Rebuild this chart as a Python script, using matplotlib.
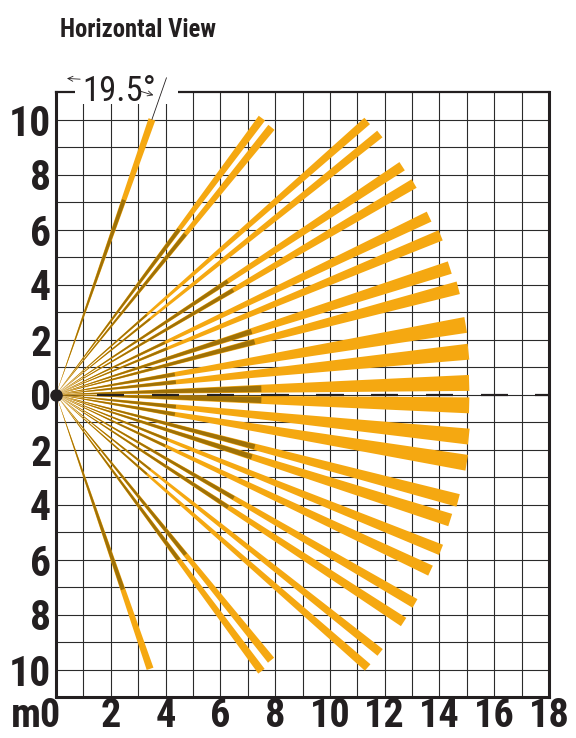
import matplotlib
matplotlib.use('Agg')
import matplotlib.pyplot as plt
import numpy as np
from matplotlib.patches import Polygon, Rectangle

FONT = ['Roboto Condensed', 'Open Sans Condensed', 'Liberation Sans Narrow', 'Liberation Sans', 'DejaVu Sans']
plt.rcParams['font.family'] = FONT

# ---- data ----
beam_angles = [70.7, 53.2, 51.0, 41.2, 38.7, 33.3, 30.4, 25.4, 22.4, 17.8, 14.8, 9.6, 5.9, 1.6,
               -1.5, -5.8, -9.4, -14.7, -17.6, -21.9, -25.1, -30.1, -33.1, -38.4, -41.1, -50.9, -53.3, -71.0]
beam_lengths = [10.6, 12.55, 12.5, 15.1, 15.15, 15.12, 15.16, 15.08, 15.19, 15.1, 15.19, 15.17, 15.14, 15.09,
                15.09, 15.15, 15.2, 15.18, 15.1, 15.15, 15.1, 15.15, 15.15, 15.1, 15.1, 12.45, 12.55, 10.55]
beam_end_widths = [0.26, 0.29, 0.29, 0.31, 0.31, 0.36, 0.36, 0.40, 0.40, 0.47, 0.47, 0.58, 0.58, 0.58,
                   0.58, 0.58, 0.58, 0.47, 0.47, 0.40, 0.40, 0.36, 0.36, 0.31, 0.31, 0.29, 0.29, 0.26]
near_zone_ends = [7.5, 7.5, 7.5, 4.4, 4.4, 7.5, 7.5, 4.4, 4.4, 7.5, 7.5, 4.4, 4.4, 7.5,
                  7.5, 4.4, 4.4, 7.5, 7.5, 4.4, 4.4, 7.5, 7.5, 4.4, 4.4, 7.5, 7.5, 7.5]

x_ticks = list(range(0, 19))
x_labels = ['' if (v % 2 or v == 0) else str(v) for v in x_ticks]
y_ticks = list(range(-10, 11))
y_labels = [str(abs(v)) if v % 2 == 0 else '' for v in y_ticks]
angle_text = '19.5°'
title = 'Horizontal View'

ORANGE = '#f5a811'
DARK = '#9f7106'
INK = '#231f20'

fig = plt.figure(figsize=(5.76, 7.38), dpi=100)
ax = fig.add_axes([56 / 576, 41 / 738, 493 / 576, 605 / 738])
ax.set_xlim(0, 18)
ax.set_ylim(-11, 11)

ax.set_xticks(x_ticks)
ax.set_xticklabels(x_labels)
ax.set_yticks(y_ticks)
ax.set_yticklabels(y_labels)
ax.tick_params(length=0, colors=INK)
ax.tick_params(axis='x', pad=0.0, labelsize=29)
ax.tick_params(axis='y', pad=3.5, labelsize=30)
for lab in ax.get_xticklabels() + ax.get_yticklabels():
    lab.set_fontweight('bold')
ax.grid(True, color='#2b2b2b', lw=0.8)
ax.set_axisbelow(True)

for side in ['left', 'bottom', 'right']:
    ax.spines[side].set_linewidth(2.2)
    ax.spines[side].set_color(INK)
ax.spines['top'].set_linewidth(1.6)
ax.spines['top'].set_color(INK)

# beams
for ang, L, w, d in zip(beam_angles, beam_lengths, beam_end_widths, near_zone_ends):
    t = np.deg2rad(ang)
    u = np.array([np.cos(t), np.sin(t)])
    p = np.array([-np.sin(t), np.cos(t)])
    end = u * L
    poly = [(0, 0), tuple(end + p * w / 2), tuple(end - p * w / 2)]
    ax.add_patch(Polygon(poly, closed=True, facecolor=ORANGE, edgecolor='none', zorder=2))
    wd = w * d / L * 0.8
    dend = u * d
    poly2 = [(0, 0), tuple(dend + p * wd / 2), tuple(dend - p * wd / 2)]
    ax.add_patch(Polygon(poly2, closed=True, facecolor=DARK, edgecolor='none', zorder=2.1))

# dashed centre line
for x0 in np.arange(1.5, 18, 2):
    ax.plot([x0, min(x0 + 1, 18)], [0, 0], color=INK, lw=1.6, solid_capstyle='butt', zorder=2.3)

# origin dot
ax.plot([0], [0], 'o', color=INK, ms=8, zorder=6, clip_on=False)

# angle annotation
ax.add_patch(Rectangle((0.7, 10.58), 3.75, 1.4, facecolor='white', edgecolor='none',
                       zorder=3, clip_on=False))
ax.text(0.95, 10.69, angle_text, fontsize=25, color=INK, ha='left', va='baseline', zorder=4)
t0 = np.deg2rad(beam_angles[0])
e = np.array([np.cos(t0), np.sin(t0)]) * beam_lengths[0]
ax.plot([e[0], e[0] + np.cos(t0) * 1.6], [e[1], e[1] + np.sin(t0) * 1.6], color=INK, lw=0.6,
        zorder=5, clip_on=False)
R = 11.5
def pol(a, r=R):
    a = np.deg2rad(a)
    return (r * np.cos(a), r * np.sin(a))
ax.annotate('', xy=pol(88.0), xytext=pol(85.6), xycoords='data', annotation_clip=False,
            arrowprops=dict(arrowstyle='->', lw=0.6, color=INK, mutation_scale=9,
                            shrinkA=0, shrinkB=0), zorder=5)
ax.annotate('', xy=pol(71.9, 11.45), xytext=pol(74.3, 11.45), xycoords='data', annotation_clip=False,
            arrowprops=dict(arrowstyle='->', lw=0.6, color=INK, mutation_scale=9,
                            shrinkA=0, shrinkB=0), zorder=5)

# "m0" label at origin
ax.annotate('m0', xy=(-0.73, 0), xycoords=('data', 'axes fraction'), xytext=(0, 0.0),
            textcoords='offset points', ha='center', va='top', fontsize=29, fontweight='bold',
            color=INK, annotation_clip=False)

fig.text(60 / 576, 1 - 37 / 738, title, fontsize=17.7, fontweight='bold', color=INK,
         ha='left', va='baseline')

fig.savefig('out.png', dpi=100)
